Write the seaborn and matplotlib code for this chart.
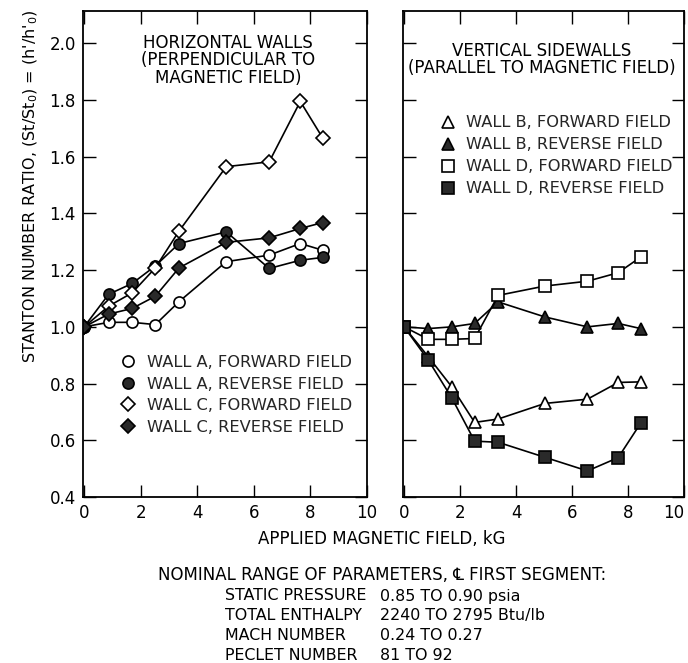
import matplotlib
matplotlib.use("Agg")
import numpy as np
import pandas as pd
import seaborn as sns
import matplotlib.pyplot as plt
from matplotlib.lines import Line2D

# Applied magnetic field settings, kG
field_kG = [0, 0.87, 1.7, 2.52, 3.36, 5.03, 6.55, 7.65, 8.45]

# Horizontal walls (perpendicular to magnetic field)
wall_a_forward = [1.0, 1.016, 1.016, 1.008, 1.089, 1.23, 1.253, 1.294, 1.27]
wall_a_reverse = [1.0, 1.115, 1.153, 1.215, 1.294, 1.335, 1.206, 1.235, 1.245]
wall_c_forward = [1.0, 1.073, 1.12, 1.208, 1.338, 1.565, 1.582, 1.795, 1.665]
wall_c_reverse = [1.0, 1.045, 1.065, 1.108, 1.208, 1.298, 1.314, 1.347, 1.368]

# Vertical sidewalls (parallel to magnetic field)
wall_b_forward = [1.0, 0.894, 0.789, 0.663, 0.675, 0.73, 0.745, 0.804, 0.806]
wall_b_reverse = [1.0, 0.994, 1.0, 1.012, 1.088, 1.035, 1.0, 1.012, 0.994]
wall_d_forward = [1.0, 0.956, 0.956, 0.959, 1.111, 1.144, 1.161, 1.191, 1.246]
wall_d_reverse = [1.0, 0.882, 0.75, 0.597, 0.593, 0.54, 0.492, 0.539, 0.66]

left_labels = ["WALL A, FORWARD FIELD", "WALL A, REVERSE FIELD",
               "WALL C, FORWARD FIELD", "WALL C, REVERSE FIELD"]
right_labels = ["WALL B, FORWARD FIELD", "WALL B, REVERSE FIELD",
                "WALL D, FORWARD FIELD", "WALL D, REVERSE FIELD"]

x_ticks = [0, 2, 4, 6, 8, 10]
y_ticks = [0.4, 0.6, 0.8, 1.0, 1.2, 1.4, 1.6, 1.8, 2.0]

param_names = ["STATIC PRESSURE", "TOTAL ENTHALPY", "MACH NUMBER", "PECLET NUMBER"]
param_ranges = ["0.85 TO 0.90 psia", "2240 TO 2795 Btu/lb", "0.24 TO 0.27", "81 TO 92"]

sns.set_theme(style="ticks")
plt.rcParams["font.family"] = ["DejaVu Sans", "Noto Sans"]
plt.rcParams["mathtext.fontset"] = "dejavusans"

INK = "black"
FILL = "#2a2a2a"
FS = 12

def long_frame(series):
    rows = []
    for name, vals in series.items():
        for f, v in zip(field_kG, vals):
            rows.append({"field": f, "ratio": v, "series": name})
    return pd.DataFrame(rows)

left_df = long_frame(dict(zip(left_labels, [wall_a_forward, wall_a_reverse,
                                            wall_c_forward, wall_c_reverse])))
right_df = long_frame(dict(zip(right_labels, [wall_b_forward, wall_b_reverse,
                                              wall_d_forward, wall_d_reverse])))

left_style = {
    left_labels[0]: dict(marker="o", mfc="white", ms=8),
    left_labels[1]: dict(marker="o", mfc=FILL, ms=8),
    left_labels[2]: dict(marker="D", mfc="white", ms=7.5),
    left_labels[3]: dict(marker="D", mfc=FILL, ms=7.5),
}
right_style = {
    right_labels[0]: dict(marker="^", mfc="white", ms=9),
    right_labels[1]: dict(marker="^", mfc=FILL, ms=9),
    right_labels[2]: dict(marker="s", mfc="white", ms=8),
    right_labels[3]: dict(marker="s", mfc=FILL, ms=8),
}

W, H = 688, 663
fig = plt.figure(figsize=(W / 100, H / 100), dpi=100)
fig.patch.set_facecolor("white")

def rect(l, t, r, b):
    return [l / W, 1 - b / H, (r - l) / W, (b - t) / H]

ax1 = fig.add_axes(rect(82.7, 10.7, 366.7, 497))
ax2 = fig.add_axes(rect(402.7, 10.7, 684, 497))

def draw_panel(ax, df, styles):
    for name, st in styles.items():
        sub = df[df["series"] == name]
        sns.lineplot(data=sub, x="field", y="ratio", ax=ax, sort=False,
                     errorbar=None, color=INK, linewidth=1.2,
                     marker=st["marker"], markersize=st["ms"],
                     markerfacecolor=st["mfc"], markeredgecolor=INK,
                     markeredgewidth=1.2, legend=False)

draw_panel(ax1, left_df, left_style)
draw_panel(ax2, right_df, right_style)

for ax in (ax1, ax2):
    ax.set_facecolor("white")
    ax.set_xlim(-0.05, 10)
    ax.set_ylim(0.4, 2.115)
    ax.set_xticks(x_ticks)
    ax.set_yticks(y_ticks)
    ax.set_xticklabels([str(t) for t in x_ticks])
    ax.tick_params(direction="in", length=9, width=1.0, top=True, right=True,
                   labelsize=FS, pad=5, colors=INK)
    for s in ax.spines.values():
        s.set_visible(True)
        s.set_linewidth(1.3)
        s.set_color(INK)
    ax.set_xlabel("")
    ax.set_ylabel("")
    ax.grid(False)

ax1.set_yticklabels([f"{v:.1f}" for v in y_ticks])
ax2.tick_params(labelleft=False)
# keep the last tick label of the right panel inside the figure edge
ax2.get_xticklabels()[-1].set_horizontalalignment("right")

ax1.set_ylabel("STANTON NUMBER RATIO, (St/St$_0$) = (h'/h'$_0$)", fontsize=11.5, color=INK)
ax1.yaxis.set_label_coords(-0.15, 0.64)

ax1.text(0.512, 0.8976, "HORIZONTAL WALLS\n(PERPENDICULAR TO\nMAGNETIC FIELD)",
         transform=ax1.transAxes, ha="center", va="center", multialignment="center",
         linespacing=0.95, fontsize=FS, color=INK)
ax2.text(0.494, 0.8997, "VERTICAL SIDEWALLS\n(PARALLEL TO MAGNETIC FIELD)",
         transform=ax2.transAxes, ha="center", va="center", multialignment="center",
         linespacing=0.95, fontsize=FS, color=INK)

def legend_handles(styles):
    return [Line2D([], [], linestyle="none", marker=st["marker"], markersize=st["ms"],
                   markerfacecolor=st["mfc"], markeredgecolor=INK, markeredgewidth=1.2)
            for st in styles.values()]

ax1.legend(legend_handles(left_style), left_labels, loc="upper left",
           bbox_to_anchor=(0.134, 0.292), frameon=False, fontsize=11.7,
           handlelength=0.95, handletextpad=0.65, labelspacing=0.4,
           borderpad=0, borderaxespad=0)
ax2.legend(legend_handles(right_style), right_labels, loc="upper left",
           bbox_to_anchor=(0.135, 0.785), frameon=False, fontsize=11.7,
           handlelength=0.95, handletextpad=0.6, labelspacing=0.43,
           borderpad=0, borderaxespad=0)

fig.text(382 / W, 1 - 539 / H, "APPLIED MAGNETIC FIELD, kG", ha="center", va="center",
         fontsize=FS, color=INK)
fig.text(382 / W, 1 - 575 / H, "NOMINAL RANGE OF PARAMETERS, \u2104 FIRST SEGMENT:",
         ha="center", va="center", fontsize=FS, color=INK)
for i, (name, rng) in enumerate(zip(param_names, param_ranges)):
    y = 1 - (596 + 19.7 * i) / H
    fig.text(224.7 / W, y, name, ha="left", va="center", fontsize=11.4, color=INK)
    fig.text(380 / W, y, rng, ha="left", va="center", fontsize=11.4, color=INK)

fig.savefig("out.png", dpi=100, facecolor="white")
